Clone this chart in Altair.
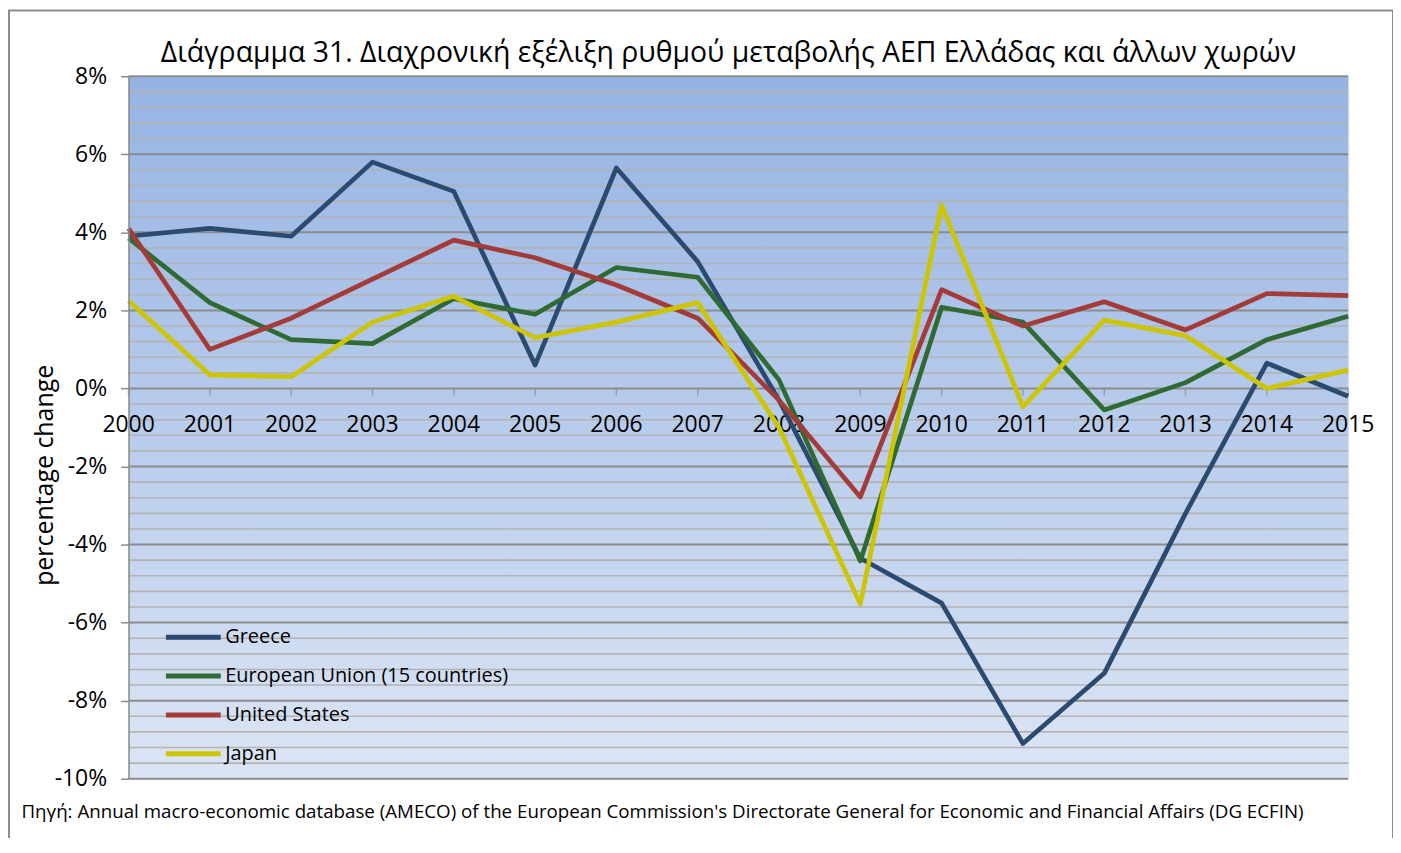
import altair as alt
import pandas as pd

years = list(range(2000, 2016))
series_names = ["Greece", "European Union (15 countries)", "United States", "Japan"]
series_colors = ["#2B4A70", "#2F6A32", "#A33B39", "#CCC500"]

greece = [3.9, 4.1, 3.9, 5.8, 5.05, 0.6, 5.65, 3.25, -0.3, -4.35, -5.5, -9.1, -7.3, -3.2, 0.65, -0.2]
eu15 = [3.85, 2.2, 1.25, 1.15, 2.3, 1.9, 3.1, 2.85, 0.22, -4.42, 2.08, 1.7, -0.55, 0.15, 1.25, 1.85]
usa = [4.1, 1.0, 1.8, 2.8, 3.8, 3.35, 2.65, 1.8, -0.3, -2.78, 2.53, 1.6, 2.22, 1.5, 2.43, 2.38]
japan = [2.25, 0.35, 0.3, 1.7, 2.36, 1.3, 1.7, 2.2, -1.0, -5.52, 4.7, -0.47, 1.75, 1.35, 0.0, 0.47]

y_ticks = [round(-10 + 0.4 * i, 1) for i in range(46)]
y_major = [-10, -8, -6, -4, -2, 0, 2, 4, 6, 8]

title_text = "Διάγραμμα 31. Διαχρονική εξέλιξη ρυθμού μεταβολής ΑΕΠ Ελλάδας και άλλων χωρών"
source_text = ("Πηγή: Annual macro-economic database (AMECO) of the European Commission's "
               "Directorate General for Economic and Financial Affairs (DG ECFIN)")
y_title = "percentage change"

rows = []
for name, vals in zip(series_names, [greece, eu15, usa, japan]):
    for yr, v in zip(years, vals):
        rows.append({"year": yr, "series": name, "value": v})
df = pd.DataFrame(rows)
df_years = pd.DataFrame({"year": years})
df_grid = pd.DataFrame({"value": y_ticks, "major": [t in y_major for t in y_ticks]})

W, H = 1224, 705
FONT = "Open Sans"

x_scale = alt.Scale(domain=[2000, 2015], nice=False, zero=False)
y_scale = alt.Scale(domain=[-10, 8], nice=False, zero=False)

x_axis = alt.Axis(labels=False, ticks=False, domain=False, grid=False,
                  offset=-391.67,
                  title=source_text, titleFont=FONT, titleFontSize=18.8,
                  titleFontWeight="normal", titleColor="black",
                  titleX=-108, titleY=425, titleAlign="left",
                  titleBaseline="middle")
y_axis = alt.Axis(values=y_major, zindex=1,
                  labelExpr="round(datum.value) + '%'",
                  grid=False,
                  tickColor="#8C8C8C",
                  tickSize=8, tickWidth=1.5,
                  domainColor="#8C8C8C", domainWidth=1.5,
                  labelFont=FONT, labelFontSize=23, labelColor="black",
                  labelPadding=14, labelOverlap=False,
                  title=y_title, titleFont=FONT, titleFontSize=25,
                  titleFontWeight="normal", titleColor="black",
                  titleX=-84, titleY=400, titleAngle=-90,
                  titleAlign="center", titleBaseline="middle")

lines = alt.Chart(df).mark_line(strokeWidth=4.7, strokeJoin="round").encode(
    x=alt.X("year:Q", scale=x_scale, axis=x_axis, title=source_text),
    y=alt.Y("value:Q", scale=y_scale, axis=y_axis, title=y_title),
    color=alt.Color("series:N",
                    scale=alt.Scale(domain=series_names, range=series_colors),
                    legend=alt.Legend(orient="none", legendX=35, legendY=551,
                                      title=None, symbolType="stroke",
                                      symbolSize=3025, symbolStrokeWidth=5,
                                      clipHeight=24,
                                      labelFont=FONT, labelFontSize=20,
                                      labelColor="black", labelOffset=2,
                                      rowPadding=15, labelLimit=500)),
)

grid = alt.Chart(df_grid).mark_rule().encode(
    y=alt.Y("value:Q", scale=y_scale, axis=y_axis, title=y_title),
    color=alt.condition("datum.major", alt.value("#8C8C8C"), alt.value("#B3B3B3")),
    strokeWidth=alt.condition("datum.major", alt.value(2), alt.value(1.6)),
)

x_ticks = alt.Chart(df_years).mark_tick(
    orient="vertical", size=7, thickness=1.5, color="#8C8C8C", yOffset=3.5
).encode(x=alt.X("year:Q", scale=x_scale, axis=x_axis, title=source_text),
         y=alt.YDatum(0, scale=y_scale, axis=y_axis, title=y_title))

x_labels = alt.Chart(df_years).mark_text(
    font=FONT, fontSize=23, color="black", baseline="middle", dy=37
).encode(x=alt.X("year:Q", scale=x_scale, axis=x_axis, title=source_text),
         y=alt.YDatum(0, scale=y_scale, axis=y_axis, title=y_title),
         text=alt.Text("year:Q", format="d"))

deco = pd.DataFrame({"part": ["area"]})

plot_bg = alt.Chart(deco).mark_rect(
    color=alt.Gradient(gradient="linear", x1=0, x2=0, y1=0, y2=1,
                       stops=[alt.GradientStop(color="#95B3E3", offset=0),
                              alt.GradientStop(color="#DCE5F4", offset=1)])
).encode(x=alt.value(0), x2=alt.value(W), y=alt.value(0), y2=alt.value(H))

frame = alt.Chart(deco).mark_rect(
    fill=None, stroke="#8C8C8C", strokeWidth=2
).encode(
    x=alt.value(-120), x2=alt.value(1269), y=alt.value(-66), y2=alt.value(790)
)

chart = alt.layer(frame, plot_bg, grid, x_ticks, x_labels, lines).properties(
    width=W, height=H,
    autosize=alt.AutoSizeParams(type="none"),
    padding={"left": 121, "top": 67, "right": 45, "bottom": 58},
    title=alt.TitleParams(title_text, font=FONT, fontSize=28.5, fontWeight="normal",
                          color="black", anchor="middle", frame="group",
                          offset=0, dy=58, dx=-10),
).configure_view(stroke=None).configure(background="white")

chart.save("out.html", embed_options={"renderer": "svg", "actions": False})
